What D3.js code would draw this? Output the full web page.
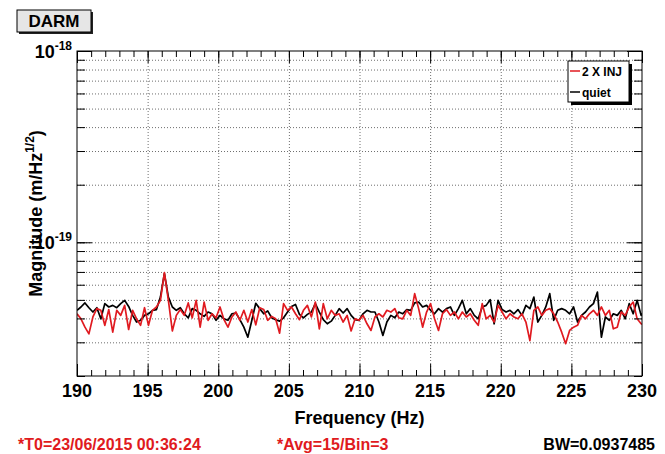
<!DOCTYPE html>
<html>
<head>
<meta charset="utf-8">
<script src="https://cdn.jsdelivr.net/npm/d3@7"></script>
<style>
  html, body { margin: 0; padding: 0; background: #fff; }
  svg { display: block; font-family: "Liberation Sans", Arial, Helvetica, sans-serif; }
  .grid line { stroke: #6e6e6e; stroke-dasharray: 1 2; stroke-width: 1; }
  .grid path { display: none; }
  .ax path { display: none; }
  .ax line { stroke: #000; stroke-width: 1; }
</style>
</head>
<body>
<svg id="chart" width="665" height="454"></svg>
<script>
// Spectrum bins: start frequency and bin spacing (Hz)
const fStart = 190;
const fStep = 0.28125;

// Amplitude spectral density, units of 1e-20 m/Hz^(1/2)
const injValues = [
  4.23,3.98,3.60,3.32,4.07,4.50,4.41,3.68,4.45,3.39,
  4.41,4.15,4.68,3.50,4.41,3.98,3.68,4.55,3.68,4.41,
  4.59,4.97,6.95,4.97,3.44,4.15,4.45,4.15,4.82,4.03,
  4.97,3.60,4.87,3.91,4.23,4.03,4.59,3.94,3.60,4.07,
  4.32,3.91,4.41,3.83,4.45,3.70,4.55,4.45,3.91,4.10,
  3.98,3.35,4.78,4.41,4.59,4.23,3.94,4.41,4.68,4.07,
  4.87,3.53,4.78,3.98,4.41,4.15,4.23,3.83,4.15,3.44,
  3.98,3.91,4.15,3.75,3.46,4.07,4.23,4.07,4.41,4.32,
  4.50,4.03,3.98,4.41,4.15,5.39,4.50,3.60,4.32,4.78,
  3.98,3.46,4.23,4.45,4.15,4.32,3.98,4.32,4.07,4.23,
  3.91,3.68,4.78,3.98,4.15,3.83,4.68,4.32,3.98,4.23,
  4.07,3.98,4.23,3.83,3.06,4.41,4.59,4.15,4.41,4.50,
  4.23,3.83,3.39,2.95,3.46,3.60,3.68,4.15,3.98,4.23,
  4.41,4.15,4.59,4.15,4.41,3.53,3.60,4.32,4.15,4.59,
  4.87,3.98,3.75,3.68
];
const quietValues = [
  4.41,4.59,4.82,4.55,4.32,4.55,3.98,4.78,4.59,4.68,
  4.55,4.78,4.97,4.62,4.15,3.83,3.91,4.15,4.23,4.41,
  4.45,5.17,6.86,5.17,4.59,4.41,4.55,4.23,4.03,4.50,
  4.41,4.23,4.10,4.32,4.23,3.91,4.15,3.98,3.91,4.23,
  4.27,3.94,3.60,3.19,3.90,4.80,4.50,4.23,4.38,4.03,
  3.94,3.87,4.03,4.32,4.62,4.73,4.20,4.03,4.20,4.32,
  4.78,4.32,3.94,3.75,3.87,4.15,4.50,4.27,4.50,4.15,
  3.94,3.91,4.23,4.41,4.32,4.32,3.83,3.26,3.83,4.15,
  4.03,4.32,4.23,4.45,4.41,4.82,4.87,4.59,4.68,4.41,
  4.23,4.50,4.32,4.50,4.59,4.15,4.50,4.97,4.23,4.50,
  4.15,3.98,4.59,4.68,5.01,3.75,4.97,4.45,4.32,4.41,
  4.23,4.45,4.15,4.68,4.50,5.17,3.83,4.15,4.59,5.39,
  3.91,4.41,4.50,4.41,4.23,4.59,3.83,4.15,4.32,4.59,
  4.78,5.49,3.19,4.07,3.91,4.23,4.15,4.41,3.98,4.78,
  4.23,4.97,4.15,4.41
];

const xMajorTicks = [190, 195, 200, 205, 210, 215, 220, 225, 230];
const yMajorTicks = [1e-19, 1e-18];
const yMajorLabels = ["-19", "-18"];
const seriesNames = ["2 X INJ", "quiet"];
const footerTexts = ["*T0=23/06/2015 00:36:24", "*Avg=15/Bin=3", "BW=0.0937485"];

const frame = { left: 77, right: 642, top: 51, bottom: 376 };
const colInj = "#e01a20";

const svg = d3.select("#chart");

const x = d3.scaleLinear().domain([190, 230]).range([frame.left, frame.right]);
const y = d3.scaleLog().domain([2e-20, 1e-18]).range([frame.bottom, frame.top]);

// minor tick values of the log axis: 2..9 per decade
const yMinor = [];
[1e-20, 1e-19].forEach(d => { for (let k = 1; k <= 9; k++) { const v = k * d; if (v >= 2e-20 && v <= 1e-18) yMinor.push(v); } });
const xMinor = d3.range(190, 231, 1);

// grid
svg.append("g").attr("class", "grid")
  .attr("transform", `translate(${frame.left},0)`)
  .call(d3.axisLeft(y).tickValues(yMinor.filter(v => v > 2.01e-20 && v < 0.99e-18)).tickSize(-(frame.right - frame.left)).tickFormat(""));
svg.append("g").attr("class", "grid")
  .attr("transform", `translate(0,${frame.bottom})`)
  .call(d3.axisBottom(x).tickValues(xMajorTicks.slice(1, -1)).tickSize(-(frame.bottom - frame.top)).tickFormat(""));

// spectra
const points = vals => vals.map((v, i) => [fStart + i * fStep, v * 1e-20]);
const line = d3.line().x(d => x(d[0])).y(d => y(d[1]));
svg.append("clipPath").attr("id", "clip").append("rect")
  .attr("x", frame.left).attr("y", frame.top)
  .attr("width", frame.right - frame.left).attr("height", frame.bottom - frame.top);
const plot = svg.append("g").attr("clip-path", "url(#clip)");
plot.append("path").datum(points(quietValues)).attr("d", line)
  .attr("fill", "none").attr("stroke", "#000").attr("stroke-width", 1.7).attr("stroke-linejoin", "round");
plot.append("path").datum(points(injValues)).attr("d", line)
  .attr("fill", "none").attr("stroke", colInj).attr("stroke-width", 1.7).attr("stroke-linejoin", "round");

// ticks drawn inward on all four sides
const ax = (gen, tr) => svg.append("g").attr("class", "ax").attr("transform", tr).call(gen);
ax(d3.axisBottom(x).tickValues(xMinor).tickSize(-6).tickFormat(""), `translate(0,${frame.bottom})`);
ax(d3.axisBottom(x).tickValues(xMajorTicks).tickSize(-12).tickFormat(""), `translate(0,${frame.bottom})`);
ax(d3.axisTop(x).tickValues(xMinor).tickSize(-6).tickFormat(""), `translate(0,${frame.top})`);
ax(d3.axisTop(x).tickValues(xMajorTicks).tickSize(-12).tickFormat(""), `translate(0,${frame.top})`);
ax(d3.axisLeft(y).tickValues(yMinor).tickSize(-8).tickFormat(""), `translate(${frame.left},0)`);
ax(d3.axisLeft(y).tickValues(yMajorTicks).tickSize(-15).tickFormat(""), `translate(${frame.left},0)`);
ax(d3.axisRight(y).tickValues(yMinor).tickSize(-8).tickFormat(""), `translate(${frame.right},0)`);
ax(d3.axisRight(y).tickValues(yMajorTicks).tickSize(-15).tickFormat(""), `translate(${frame.right},0)`);

// frame
svg.append("rect").attr("x", frame.left).attr("y", frame.top)
  .attr("width", frame.right - frame.left).attr("height", frame.bottom - frame.top)
  .attr("fill", "none").attr("stroke", "#000").attr("stroke-width", 1);

// x tick labels
svg.append("g").selectAll("text").data(xMajorTicks).join("text")
  .attr("x", d => x(d)).attr("y", frame.bottom + 21)
  .attr("text-anchor", "middle").attr("font-size", 18).attr("font-weight", "bold")
  .text(d => d);

// y tick labels 10^n
yMajorTicks.forEach((v, i) => {
  const t = svg.append("text").attr("x", frame.left - 5).attr("y", y(v) + 7)
    .attr("text-anchor", "end").attr("font-weight", "bold").attr("font-size", 18);
  t.append("tspan").text("10");
  t.append("tspan").attr("font-size", 12).attr("dy", -8).text(yMajorLabels[i]);
});

// axis titles
svg.append("text").attr("x", (frame.left + frame.right) / 2).attr("y", 424)
  .attr("text-anchor", "middle").attr("font-size", 18).attr("font-weight", "bold")
  .text("Frequency (Hz)");
const yt = svg.append("text")
  .attr("transform", `translate(42,${(frame.top + frame.bottom) / 2}) rotate(-90)`)
  .attr("text-anchor", "middle").attr("font-size", 18).attr("font-weight", "bold");
yt.append("tspan").text("Magnitude (m/Hz");
yt.append("tspan").attr("font-size", 12).attr("dy", -8).text("1/2");
yt.append("tspan").attr("dy", 8).text(")");

// title box
const tb = { x: 17, y: 10, w: 74, h: 22 };
svg.append("rect").attr("x", tb.x + 2).attr("y", tb.y + 2).attr("width", tb.w).attr("height", tb.h).attr("fill", "#222");
svg.append("rect").attr("x", tb.x).attr("y", tb.y).attr("width", tb.w).attr("height", tb.h)
  .attr("fill", "#e6e6e6").attr("stroke", "#000").attr("stroke-width", 1);
svg.append("text").attr("x", tb.x + tb.w / 2).attr("y", tb.y + 17)
  .attr("text-anchor", "middle").attr("font-size", 17).attr("font-weight", "bold").text("DARM");

// legend
const lg = { x: 568, y: 61, w: 61, h: 41 };
svg.append("rect").attr("x", lg.x + 3).attr("y", lg.y + 3).attr("width", lg.w).attr("height", lg.h).attr("fill", "#000");
svg.append("rect").attr("x", lg.x).attr("y", lg.y).attr("width", lg.w).attr("height", lg.h)
  .attr("fill", "#fff").attr("stroke", "#000").attr("stroke-width", 1);
const legendColors = [colInj, "#000"];
seriesNames.forEach((name, i) => {
  const cy = lg.y + 10 + i * 21;
  svg.append("line").attr("x1", lg.x + 2).attr("x2", lg.x + 12).attr("y1", cy).attr("y2", cy)
    .attr("stroke", legendColors[i]).attr("stroke-width", 1.5);
  svg.append("text").attr("x", lg.x + 14).attr("y", cy + 4.5)
    .attr("font-size", 12).attr("font-weight", "bold").text(name);
});

// run information
const footerX = [18, 277, 655];
const footerAnchor = ["start", "start", "end"];
const footerCol = [colInj, colInj, "#000"];
footerTexts.forEach((s, i) => {
  svg.append("text").attr("x", footerX[i]).attr("y", 450)
    .attr("text-anchor", footerAnchor[i]).attr("font-size", 16).attr("font-weight", "bold")
    .attr("fill", footerCol[i]).text(s);
});
</script>
</body>
</html>
